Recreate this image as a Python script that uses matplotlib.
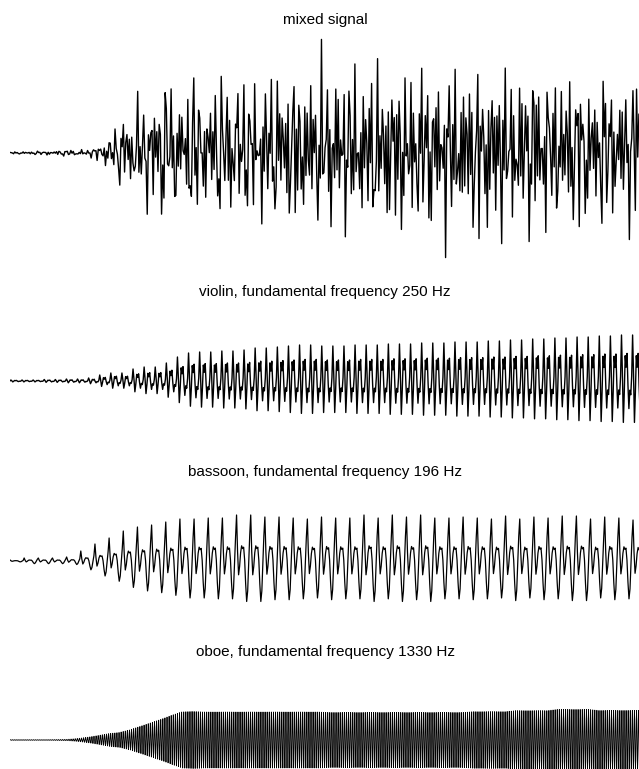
import numpy as np
import matplotlib
matplotlib.use("Agg")
import matplotlib.pyplot as plt

# ---------------- data ----------------
titles = ["mixed signal",
          "violin, fundamental frequency 250 Hz",
          "bassoon, fundamental frequency 196 Hz",
          "oboe, fundamental frequency 1330 Hz"]

violin_freq_hz = 250.0
bassoon_freq_hz = 196.0
oboe_freq_hz = 1330.0
duration_ms = 227.0

# one period of each waveform (normalised to the main positive peak)
violin_shape = [0.1, 1.0, 0.15, -0.9, -0.25, 0.55, 0.3, 0.6, -0.1, -0.6, -0.2, -0.3]
bassoon_shape = [1.0, 0.2, -0.3, -0.12, 0.18, 0.33, 0.27, 0.3, 0.02, -0.5, -0.88, -0.65, -0.05, 0.55]
oboe_shape = [0.0, 0.7, 1.0, 0.7, 0.0, -0.7, -1.0, -0.7]

# peak amplitude of each successive cycle
violin_cycle_amp = [1, 1, 1, 1.5, 1.5, 2, 2, 3,
                    6, 8, 8, 12, 14, 14, 18, 24, 28, 29, 29, 30, 30, 31, 33, 33, 34, 35, 36, 36, 35,
                    35, 35, 36, 36, 36, 37, 37, 37, 38, 38, 38, 39, 39, 39, 40, 40, 41, 41, 42, 42,
                    43, 43, 44, 44, 45, 45, 46, 46]
bassoon_cycle_amp = [1, 3, 3, 3, 4, 10, 17, 23, 30, 34,
                     36, 39, 42, 42, 43, 43, 46, 46, 44, 44,
                     43, 42, 44, 43, 43, 46, 43, 46, 44, 46,
                     43, 43, 44, 43, 42, 45, 42, 44, 43, 45,
                     45, 42, 44, 43, 41]
# oboe: peak amplitude read at the middle of each block of 5 cycles
oboe_cycles_per_block = 5
oboe_block_amp = [0.3, 0.3, 0.3, 0.3, 0.4, 0.6, 1.5, 2.8, 4.5, 6.3,
                  7.5, 10, 13.5, 17, 20.5, 24.5, 28, 28.5,
                  28, 28, 28, 28, 28, 28, 28, 28, 28, 28, 28, 28,
                  27.5, 27.5, 27.5, 27.5, 27.5, 27.5, 27.5, 27.5, 27.5, 27.5, 27.5, 27.5, 27.5, 27.5,
                  28.3, 28.3, 28.3, 28.3,
                  29.3, 29.3, 29.3, 29.3,
                  30.5, 30.5, 30.5, 30.5,
                  29.5, 29.5, 29.5, 29.5, 29.5]

# envelope of the mixed signal (time in ms, typical large-peak amplitude)
mixed_env_ms = [0, 10.8, 18, 28.8, 32.4, 36, 39.6, 44.3, 50.4, 55.8, 68.5, 227]
mixed_env_amp = [1, 2, 3, 4, 11, 22, 35, 52, 68, 74, 77, 77]
mixed_step_ms = 0.43


# ---------------- build the waveforms ----------------
def build(shape, amps, freq):
    shape = np.asarray(shape, float)
    n = len(shape)
    period = 1000.0 / freq
    amps = np.asarray(amps, float)
    ncyc = len(amps)
    t = np.arange(ncyc * n) / n * period
    y = np.tile(shape, ncyc) * np.repeat(amps, n)
    return t, y


t_v, y_v = build(violin_shape, violin_cycle_amp, violin_freq_hz)
t_b, y_b = build(bassoon_shape, bassoon_cycle_amp, bassoon_freq_hz)

# oboe: envelope drawn smoothly through the block readings
n_oboe_cyc = len(oboe_block_amp) * oboe_cycles_per_block
block_centres = (np.arange(len(oboe_block_amp)) + 0.5) * oboe_cycles_per_block
oboe_cycle_amp = np.interp(np.arange(n_oboe_cyc) + 0.5, block_centres, oboe_block_amp)
t_o, y_o = build(oboe_shape, oboe_cycle_amp, oboe_freq_hz)

# unit-amplitude carriers, mixed together
_, u_v = build(violin_shape, np.ones(len(violin_cycle_amp)), violin_freq_hz)
_, u_b = build(bassoon_shape, np.ones(len(bassoon_cycle_amp)), bassoon_freq_hz)
_, u_o = build(oboe_shape, np.ones(n_oboe_cyc), oboe_freq_hz)
t_m = np.arange(0, duration_ms, mixed_step_ms)
carrier = np.interp(t_m, t_v, u_v) + np.interp(t_m, t_b, u_b) + np.interp(t_m, t_o, u_o)
carrier = carrier / np.percentile(np.abs(carrier), 97)
y_m = carrier * np.interp(t_m, mixed_env_ms, mixed_env_amp)

# ---------------- figure ----------------
W, H, DPI = 639, 769, 100
fig = plt.figure(figsize=(W / DPI, H / DPI), dpi=DPI)
fig.patch.set_facecolor("white")

left_px, right_px = 10, 640
panels = [  # (centre, top, bottom) in pixels
    (153, 30, 280),
    (381, 325, 440),
    (561, 505, 620),
    (740, 700, 790),
]
baselines = [24, 296, 476, 656]
series = [(t_m, y_m), (t_v, y_v), (t_b, y_b), (t_o, y_o)]
widths = [1.0, 1.0, 0.9, 0.6]

for (c, top, bot), (t, y), title, base, lw in zip(panels, series, titles, baselines, widths):
    ax = fig.add_axes([left_px / W, 1 - bot / H, (right_px - left_px) / W, (bot - top) / H])
    ax.plot(t, y, color="black", lw=lw)
    ax.set_xlim(0, duration_ms)
    ax.set_ylim(-(bot - c), c - top)
    ax.axis("off")
    fig.text(325 / W, 1 - base / H, title, ha="center", va="baseline",
             fontsize=11, family=["Liberation Sans", "DejaVu Sans"])

fig.savefig("out.png", dpi=DPI)
